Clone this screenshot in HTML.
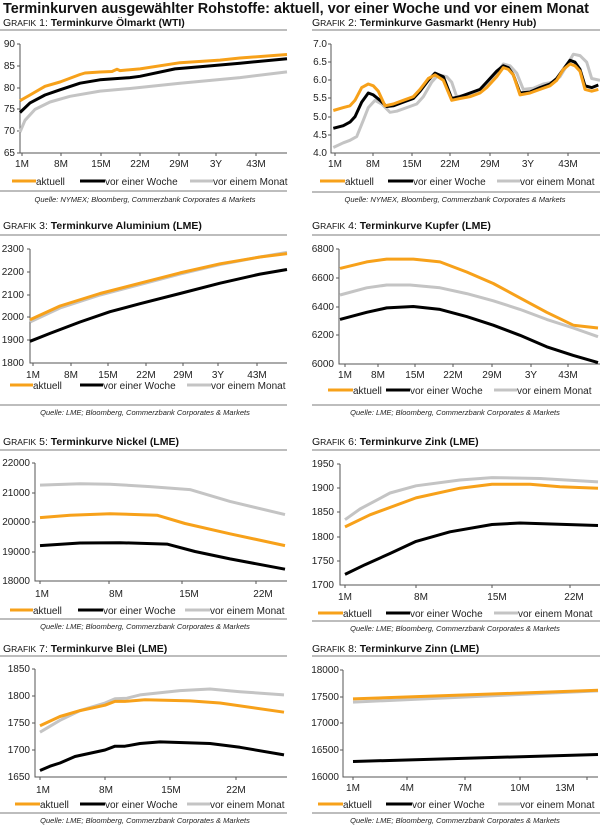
<!DOCTYPE html>
<html><head><meta charset="utf-8"><style>
html,body{margin:0;padding:0;background:#fff;}
svg{display:block;font-family:"Liberation Sans",Arial,sans-serif;}
.t{font-size:10px;fill:#222;}
.s{font-size:10.5px;fill:#111;}
.sc{font-size:8.5px;}
.b{font-weight:bold;}
.src{font-size:7.5px;font-style:italic;fill:#222;}
.ax{stroke:#555;stroke-width:1;fill:none;}
.o{stroke:#f7a11a;stroke-width:3;fill:none;stroke-linejoin:round;}
.k{stroke:#000;stroke-width:3;fill:none;stroke-linejoin:round;}
.g{stroke:#c4c4c4;stroke-width:3;fill:none;stroke-linejoin:round;}
.r{stroke:#bdbdbd;stroke-width:2;}
</style></head><body>
<svg width="600" height="827" viewBox="0 0 600 827">
<text x="3" y="13" font-size="14.5" font-weight="bold" fill="#111" textLength="586" lengthAdjust="spacingAndGlyphs">Terminkurven ausgewählter Rohstoffe: aktuell, vor einer Woche und vor einem Monat</text>

<!-- Chart 1 -->
<text x="3" y="26" class="s">G<tspan class="sc">RAFIK</tspan> 1: <tspan class="b">Terminkurve Ölmarkt (WTI)</tspan></text>
<line x1="0" y1="30" x2="287" y2="30" class="r"/>
<g class="t" text-anchor="end"><text x="15" y="47">90</text><text x="15" y="69">85</text><text x="15" y="91">80</text><text x="15" y="112">75</text><text x="15" y="134">70</text><text x="15" y="156">65</text></g>
<path class="ax" d="M20,44V153H287M17,44H20M17,66H20M17,88H20M17,109H20M17,131H20M17,153H20M22,153v3M61,153v3M101,153v3M140,153v3M179,153v3M216,153v3M256,153v3"/>
<g class="t" text-anchor="middle"><text x="22" y="167">1M</text><text x="61" y="167">8M</text><text x="101" y="167">15M</text><text x="140" y="167">22M</text><text x="179" y="167">29M</text><text x="216" y="167">3Y</text><text x="256" y="167">43M</text></g>
<polyline class="g" points="20,132 25,120.3 35,109.4 50,102 70,96.3 100,91.1 130,88.5 180,83.2 240,77.6 287,71.9"/>
<polyline class="k" points="20,112.5 30,102.9 45,95 60,89.8 80,83.2 100,79.8 130,77.6 140,76.3 175,68.9 200,66.7 240,63.2 287,58.8"/>
<polyline class="o" points="20,100.7 30,95 45,86.3 60,82 80,74.5 85,73 100,72 112,71.5 117,69.3 120,70.6 140,68.9 180,62.7 220,60.1 240,58 287,54.5"/>
<line x1="12" y1="181" x2="36" y2="181" class="o"/><text x="36" y="185" class="t">aktuell</text>
<line x1="80" y1="181" x2="105" y2="181" class="k"/><text x="105" y="185" class="t">vor einer Woche</text>
<line x1="190" y1="181" x2="213" y2="181" class="g"/><text x="213" y="185" class="t">vor einem Monat</text>
<line x1="0" y1="191" x2="287" y2="191" class="r"/>
<text x="145" y="202" class="src" text-anchor="middle">Quelle: NYMEX; Bloomberg, Commerzbank Corporates &amp; Markets</text>

<!-- Chart 2 -->
<text x="312" y="26" class="s">G<tspan class="sc">RAFIK</tspan> 2: <tspan class="b">Terminkurve Gasmarkt (Henry Hub)</tspan></text>
<line x1="312" y1="30" x2="600" y2="30" class="r"/>
<g class="t" text-anchor="end"><text x="327" y="47">7.0</text><text x="327" y="65">6.5</text><text x="327" y="83">6.0</text><text x="327" y="101">5.5</text><text x="327" y="120">5.0</text><text x="327" y="138">4.5</text><text x="327" y="156">4.0</text></g>
<path class="ax" d="M331,44V153H600M328,44H331M328,62H331M328,80H331M328,98H331M328,117H331M328,135H331M335,153v3M373,153v3M412,153v3M450,153v3M490,153v3M528,153v3M568,153v3"/>
<g class="t" text-anchor="middle"><text x="335" y="167">1M</text><text x="373" y="167">8M</text><text x="412" y="167">15M</text><text x="450" y="167">22M</text><text x="490" y="167">29M</text><text x="528" y="167">3Y</text><text x="568" y="167">43M</text></g>
<polyline class="g" points="333.3,147.5 343.3,142.8 350,140.3 356.7,136.6 363.3,120.3 368.3,107.6 375,100.3 381.7,104 390,112.3 396.7,111.2 406.7,107.6 416.7,104 423.3,96.7 431.7,82.1 438.3,74.9 446.7,76.7 451.7,82.1 456.7,96.7 466.7,94.9 476.7,91.2 486.7,85.8 496.7,73.1 503.3,64 510,65.8 516.7,73.1 523.3,89.4 533.3,88.3 543.3,84 553.3,82.1 560,76.7 566.7,65.8 573.3,54.2 580,55.6 586.7,62.2 591.7,78.5 600,80.3"/>
<polyline class="k" points="333.3,128.3 343.3,125.7 350,122.1 355,116.7 361.7,102.1 368.3,93 373.3,94.9 380,100.3 386.7,106.5 393.3,105.8 403.3,102.1 413.3,98.5 420,91.2 428.3,80.3 435,73.1 443.3,76.7 451.7,98.5 460,96.7 470,93 480,89.4 486.7,82.1 496.7,71.2 503.3,65.8 508.3,67.6 513.3,74.9 520,93 530,92 540,87.6 550,84 556.7,78.5 563.3,69.4 570,60.3 575,62.2 580,69.4 585,85.8 591.7,87.6 598.3,85"/>
<polyline class="o" points="333.3,110.5 343.3,107.6 350,105.8 355,100.3 361.7,87.6 368.3,84 373.3,85.8 378.3,91.2 385,105.8 393.3,104 403.3,100.3 413.3,96.7 420,89.4 428.3,78.5 435,74.9 443.3,80.3 451.7,100.3 460,98.5 470,96.7 480,93 486.7,87.6 496.7,76.7 503.3,67.6 508.3,69.4 513.3,74.9 520,94.9 530,93 540,89.4 550,85.8 556.7,80.3 563.3,69.4 570,64 575,65.8 580,71.2 585,89.4 591.7,91.2 598.3,89.4"/>
<line x1="320" y1="181" x2="345" y2="181" class="o"/><text x="345" y="185" class="t">aktuell</text>
<line x1="388" y1="181" x2="413" y2="181" class="k"/><text x="413" y="185" class="t">vor einer Woche</text>
<line x1="497" y1="181" x2="520" y2="181" class="g"/><text x="520" y="185" class="t">vor einem Monat</text>
<line x1="312" y1="192" x2="600" y2="192" class="r"/>
<text x="455" y="202" class="src" text-anchor="middle">Quelle: NYMEX, Bloomberg, Commerzbank Corporates &amp; Markets</text>

<!-- Chart 3 -->
<text x="3" y="229" class="s">G<tspan class="sc">RAFIK</tspan> 3: <tspan class="b">Terminkurve Aluminium (LME)</tspan></text>
<line x1="0" y1="235" x2="287" y2="235" class="r"/>
<g class="t" text-anchor="end"><text x="24" y="252">2300</text><text x="24" y="275">2200</text><text x="24" y="298">2100</text><text x="24" y="320">2000</text><text x="24" y="343">1900</text><text x="24" y="366">1800</text></g>
<path class="ax" d="M30,249V363H287M27,249H30M27,272H30M27,295H30M27,317H30M27,340H30M33,363v3M71,363v3M108,363v3M146,363v3M183,363v3M218,363v3M257,363v3"/>
<g class="t" text-anchor="middle"><text x="33" y="378">1M</text><text x="71" y="378">8M</text><text x="108" y="378">15M</text><text x="146" y="378">22M</text><text x="183" y="378">29M</text><text x="218" y="378">3Y</text><text x="257" y="378">43M</text></g>
<polyline class="k" points="30,341.3 50,333.4 80,322 110,311.7 140,303.7 180,293.5 220,283.2 260,274.1 287,269.5"/>
<polyline class="g" points="30,322 60,308 100,295 140,284.5 180,274 220,264.5 260,257 287,252.4"/>
<polyline class="o" stroke-width="2.5" points="30,319.7 60,306 100,293.5 140,283.2 180,272.9 220,263.8 260,257 287,253.6"/>
<line x1="10" y1="385" x2="33" y2="385" class="o"/><text x="33" y="389" class="t">aktuell</text>
<line x1="80" y1="385" x2="103" y2="385" class="k"/><text x="103" y="389" class="t">vor einer Woche</text>
<line x1="187" y1="385" x2="211" y2="385" class="g"/><text x="211" y="389" class="t">vor einem Monat</text>
<line x1="0" y1="405" x2="287" y2="405" class="r"/>
<text x="145" y="415" class="src" text-anchor="middle">Quelle: LME; Bloomberg, Commerzbank Corporates &amp; Markets</text>

<!-- Chart 4 -->
<text x="312" y="229" class="s">G<tspan class="sc">RAFIK</tspan> 4: <tspan class="b">Terminkurve Kupfer (LME)</tspan></text>
<line x1="312" y1="235" x2="600" y2="235" class="r"/>
<g class="t" text-anchor="end"><text x="334" y="252">6800</text><text x="334" y="281">6600</text><text x="334" y="310">6400</text><text x="334" y="338">6200</text><text x="334" y="367">6000</text></g>
<path class="ax" d="M339,249V364H600M336,249H339M336,278H339M336,307H339M336,335H339M345,364v3M378,364v3M415,364v3M453,364v3M492,364v3M531,364v3M568,364v3"/>
<g class="t" text-anchor="middle"><text x="345" y="378">1M</text><text x="378" y="378">8M</text><text x="415" y="378">15M</text><text x="453" y="378">22M</text><text x="492" y="378">29M</text><text x="531" y="378">3Y</text><text x="568" y="378">43M</text></g>
<polyline class="o" points="340,268.4 366.7,261.9 386.7,259.1 413.3,259.1 440,261.9 466.7,272 493.3,283.5 520,297.9 546.7,312.3 573.3,325.2 598,328"/>
<polyline class="g" points="340,295 366.7,287.8 386.7,285 410,285 440,287.8 466.7,293.6 493.3,300.8 520,309.4 546.7,319.4 573.3,328 598,336.7"/>
<polyline class="k" points="340,319.4 366.7,312.3 386.7,307.9 413.3,306.5 440,309.4 466.7,316.6 493.3,325.2 520,335.3 546.7,346.8 573.3,355.4 598,362.6"/>
<line x1="328" y1="390" x2="353" y2="390" class="o"/><text x="353" y="394" class="t">aktuell</text>
<line x1="386" y1="390" x2="410" y2="390" class="k"/><text x="410" y="394" class="t">vor einer Woche</text>
<line x1="494" y1="390" x2="517" y2="390" class="g"/><text x="517" y="394" class="t">vor einem Monat</text>
<line x1="312" y1="405" x2="600" y2="405" class="r"/>
<text x="455" y="415" class="src" text-anchor="middle">Quelle: LME; Bloomberg, Commerzbank Corporates &amp; Markets</text>

<!-- Chart 5 -->
<text x="3" y="445" class="s">G<tspan class="sc">RAFIK</tspan> 5:  <tspan class="b">Terminkurve Nickel (LME)</tspan></text>
<line x1="0" y1="450" x2="287" y2="450" class="r"/>
<g class="t" text-anchor="end"><text x="30" y="466">22000</text><text x="30" y="496">21000</text><text x="30" y="525">20000</text><text x="30" y="555">19000</text><text x="30" y="584">18000</text></g>
<path class="ax" d="M35,463V581H287M32,463H35M32,493H35M32,522H35M32,552H35M40,581v3M109,581v3M182,581v3M256,581v3"/>
<g class="t" text-anchor="middle"><text x="42" y="597">1M</text><text x="116" y="597">8M</text><text x="189" y="597">15M</text><text x="263" y="597">22M</text></g>
<polyline class="g" points="40,485.1 80,483.7 110,484.2 150,486.6 190,489.6 230,501.4 285,514.6"/>
<polyline class="o" points="40,517.6 70,515.2 110,513.7 157,515.2 185,523.5 230,533.8 285,545.6"/>
<polyline class="k" points="40,545.6 80,543 120,542.7 167,544.1 195,551.5 230,558.9 285,569.2"/>
<line x1="10" y1="610" x2="33" y2="610" class="o"/><text x="33" y="614" class="t">aktuell</text>
<line x1="78" y1="610" x2="103" y2="610" class="k"/><text x="103" y="614" class="t">vor einer Woche</text>
<line x1="185" y1="610" x2="210" y2="610" class="g"/><text x="210" y="614" class="t">vor einem Monat</text>
<line x1="0" y1="619" x2="287" y2="619" class="r"/>
<text x="145" y="629" class="src" text-anchor="middle">Quelle: LME; Bloomberg, Commerzbank Corporates &amp; Markets</text>

<!-- Chart 6 -->
<text x="312" y="445" class="s">G<tspan class="sc">RAFIK</tspan> 6: <tspan class="b">Terminkurve Zink (LME)</tspan></text>
<line x1="312" y1="450" x2="600" y2="450" class="r"/>
<g class="t" text-anchor="end"><text x="334" y="467">1950</text><text x="334" y="491">1900</text><text x="334" y="515">1850</text><text x="334" y="540">1800</text><text x="334" y="564">1750</text><text x="334" y="588">1700</text></g>
<path class="ax" d="M340,464V585H600M337,464H340M337,488H340M337,512H340M337,537H340M337,561H340M345,585v3M416,585v3M492,585v3M570,585v3"/>
<g class="t" text-anchor="middle"><text x="345" y="600">1M</text><text x="421" y="600">8M</text><text x="497" y="600">15M</text><text x="574" y="600">22M</text></g>
<polyline class="g" points="345,519.7 360,509 390,493 416,485.8 460,480 492,477.6 540,478.5 598,481.9"/>
<polyline class="o" points="345,526.9 370,514.8 416,497.9 460,488.2 492,484.3 530,484.3 560,486.7 598,488.2"/>
<polyline class="k" points="345,574.4 365,564.7 390,553.5 416,541.4 450,531.8 492,524.5 520,523 598,525.5"/>
<line x1="318" y1="613" x2="343" y2="613" class="o"/><text x="343" y="617" class="t">aktuell</text>
<line x1="386" y1="613" x2="410" y2="613" class="k"/><text x="410" y="617" class="t">vor einer Woche</text>
<line x1="494" y1="613" x2="518" y2="613" class="g"/><text x="518" y="617" class="t">vor einem Monat</text>
<line x1="312" y1="621" x2="600" y2="621" class="r"/>
<text x="455" y="631" class="src" text-anchor="middle">Quelle: LME; Bloomberg, Commerzbank Corporates &amp; Markets</text>

<!-- Chart 7 -->
<text x="3" y="652" class="s">G<tspan class="sc">RAFIK</tspan> 7: <tspan class="b">Terminkurve Blei (LME)</tspan></text>
<line x1="0" y1="656" x2="287" y2="656" class="r"/>
<g class="t" text-anchor="end"><text x="30" y="672">1850</text><text x="30" y="699">1800</text><text x="30" y="726">1750</text><text x="30" y="753">1700</text><text x="30" y="780">1650</text></g>
<path class="ax" d="M35,669V777H287M32,669H35M32,696H35M32,723H35M32,750H35M40,777v3M105,777v3M170,777v3M236,777v3"/>
<g class="t" text-anchor="middle"><text x="43" y="793">1M</text><text x="106" y="793">8M</text><text x="171" y="793">15M</text><text x="236" y="793">22M</text></g>
<polyline class="g" points="40,732.2 60,720.3 80,710.6 105,703 115,698.7 127,698.2 140,694.9 180,690.6 210,689 240,691.7 284,694.9"/>
<polyline class="o" points="40,725.7 60,716.5 80,710.6 105,705.2 115,701.4 125,701.4 145,699.8 190,700.9 220,703 284,712.2"/>
<polyline class="k" points="40,770.5 50,766.2 60,763 75,756.5 105,750 115,746.2 125,746.2 140,743.5 160,741.9 210,743.5 240,747.3 284,754.9"/>
<line x1="15" y1="804" x2="40" y2="804" class="o"/><text x="40" y="808" class="t">aktuell</text>
<line x1="80" y1="804" x2="105" y2="804" class="k"/><text x="105" y="808" class="t">vor einer Woche</text>
<line x1="187" y1="804" x2="210" y2="804" class="g"/><text x="210" y="808" class="t">vor einem Monat</text>
<line x1="0" y1="813" x2="287" y2="813" class="r"/>
<text x="145" y="823" class="src" text-anchor="middle">Quelle: LME; Bloomberg, Commerzbank Corporates &amp; Markets</text>

<!-- Chart 8 -->
<text x="312" y="652" class="s">G<tspan class="sc">RAFIK</tspan> 8: <tspan class="b">Terminkurve Zinn (LME)</tspan></text>
<line x1="312" y1="656" x2="600" y2="656" class="r"/>
<g class="t" text-anchor="end"><text x="339" y="673">18000</text><text x="339" y="700">17500</text><text x="339" y="726">17000</text><text x="339" y="753">16500</text><text x="339" y="780">16000</text></g>
<path class="ax" d="M343,670V777H598M340,670H343M340,697H343M340,723H343M340,750H343M353,777v3M407,777v3M465,777v3M520,777v3M587,777v3"/>
<g class="t" text-anchor="middle"><text x="353" y="791">1M</text><text x="407" y="791">4M</text><text x="465" y="791">7M</text><text x="520" y="791">10M</text><text x="565" y="791">13M</text></g>
<polyline class="g" points="353,702.1 598,690.9"/>
<polyline class="o" stroke-width="2.5" points="353,698.9 598,690.3"/>
<polyline class="k" points="353,761.5 598,754.5"/>
<line x1="318" y1="804" x2="343" y2="804" class="o"/><text x="343" y="808" class="t">aktuell</text>
<line x1="386" y1="804" x2="412" y2="804" class="k"/><text x="412" y="808" class="t">vor einer Woche</text>
<line x1="498" y1="804" x2="520" y2="804" class="g"/><text x="520" y="808" class="t">vor einem Monat</text>
<line x1="312" y1="813" x2="600" y2="813" class="r"/>
<text x="455" y="823" class="src" text-anchor="middle">Quelle: LME; Bloomberg, Commerzbank Corporates &amp; Markets</text>
</svg>
</body></html>
